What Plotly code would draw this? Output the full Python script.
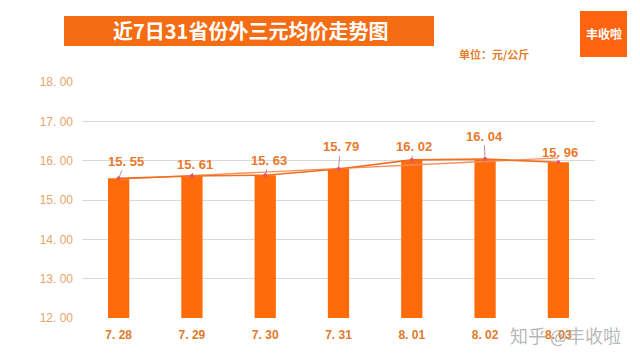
import plotly.graph_objects as go

dates = ["7.28", "7.29", "7.30", "7.31", "8.01", "8.02", "8.03"]
tick_text = ["7. 28", "7. 29", "7. 30", "7. 31", "8. 01", "8. 02", "8. 03"]
prices = [15.55, 15.61, 15.63, 15.79, 16.02, 16.04, 15.96]
trend_idx = [0, 6]
trend_y = [15.53, 16.07]
y_ticks = [12, 13, 14, 15, 16, 17, 18]
label_dx = [7, 3, 4, 2, 2, -1, 2]
label_dy = [-17, -12, -15, -22, -13, -23, -10]

ORANGE = "#ff6a0a"
LABEL = "#e8792a"
idx = list(range(len(dates)))

fig = go.Figure()
fig.add_trace(go.Bar(x=idx, y=prices, base=0, width=0.29,
                     marker=dict(color=ORANGE, line=dict(width=0)), hoverinfo="skip"))
fig.add_trace(go.Scatter(x=trend_idx, y=trend_y, mode="lines",
                         line=dict(color="#f39060", width=1.3), hoverinfo="skip"))
fig.add_trace(go.Scatter(x=idx, y=prices, mode="lines+markers",
                         line=dict(color="#f07020", width=1.6),
                         marker=dict(color="#e8506a", size=4), hoverinfo="skip"))

for i, v, dx, dy in zip(idx, prices, label_dx, label_dy):
    fig.add_annotation(x=i, y=v, text="<b>" + f"{v:.2f}".replace(".", ". ") + "</b>",
                       showarrow=True, arrowhead=0, arrowwidth=0.8, arrowcolor="#b07080",
                       ax=dx, ay=dy, font=dict(size=13, color=LABEL, family="Liberation Sans"),
                       standoff=0, startstandoff=0)

def px(xp):
    return (xp - 82) / 513

def py(yp):
    return (318 - yp) / 236

# title banner
fig.add_shape(type="rect", xref="paper", yref="paper", x0=px(64), x1=px(434),
              y0=py(46), y1=py(16), fillcolor="#f46d14", line=dict(width=0), layer="above")
fig.add_annotation(xref="paper", yref="paper", x=px(250), y=py(31), xanchor="center", yanchor="middle",
                   text="<b>近7日31省份外三元均价走势图</b>", showarrow=False,
                   font=dict(size=20, color="white", family="Noto Sans CJK SC"))
fig.add_annotation(xref="paper", yref="paper", x=px(494), y=py(54), xanchor="center", yanchor="middle",
                   text="<b>单位：元/公斤</b>", showarrow=False,
                   font=dict(size=11, color="#e57e2c", family="Noto Sans CJK SC"))
# logo box
fig.add_shape(type="rect", xref="paper", yref="paper", x0=px(580), x1=px(627),
              y0=py(57), y1=py(11), fillcolor="#ff6410", line=dict(width=0), layer="above")
fig.add_annotation(xref="paper", yref="paper", x=px(603.5), y=py(33), xanchor="center", yanchor="middle",
                   text="<b>丰收啦</b>", showarrow=False,
                   font=dict(size=12, color="white", family="Noto Sans CJK SC"))
# watermark
fig.add_annotation(xref="paper", yref="paper", x=px(565), y=py(335), xanchor="center", yanchor="middle",
                   text="知乎 @丰收啦", showarrow=False,
                   font=dict(size=18, color="rgba(160,160,160,0.75)", family="Noto Sans CJK SC"))

fig.update_layout(
    width=640, height=360,
    margin=dict(l=82, r=45, t=82, b=42),
    paper_bgcolor="white", plot_bgcolor="white",
    showlegend=False,
    xaxis=dict(range=[-0.5, 6.5], tickvals=idx, ticktext=["<b>" + t + "</b>" for t in tick_text],
               showgrid=False, showline=False, zeroline=False, ticks="",
               tickfont=dict(size=12, color="#e07a2a", family="Liberation Sans"),
               ticklabelstandoff=8),
    yaxis=dict(range=[12, 18], tickvals=y_ticks,
               ticktext=[f"{t:.2f}".replace(".", ". ") for t in y_ticks],
               showgrid=True, gridcolor="#d9d9d9", gridwidth=1, zeroline=False,
               showline=False, ticks="",
               tickfont=dict(size=12, color="#e8a46a", family="Liberation Sans"),
               ticklabelstandoff=8),
)
fig.write_html("out.html", config={"displayModeBar": False},
               post_script="document.body.style.margin='0';")
